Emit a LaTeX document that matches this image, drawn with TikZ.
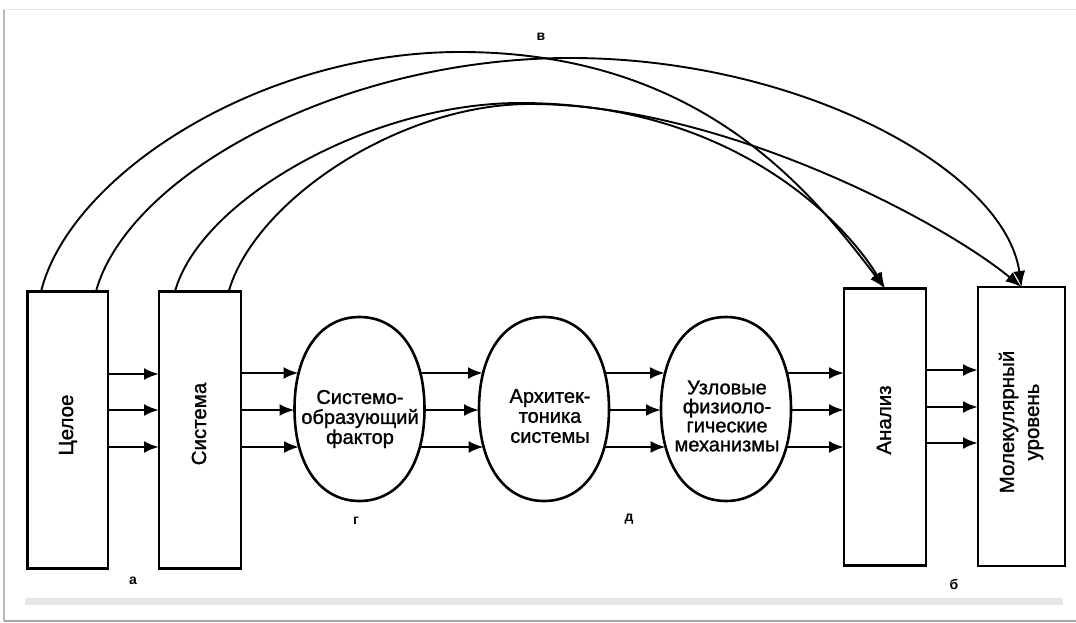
\documentclass[tikz,border=0pt]{standalone}
\usepackage{fontspec}
\setmainfont{Liberation Sans}
\newfontfamily\heavysans[FakeBold=1.2]{Liberation Sans}
\usetikzlibrary{arrows.meta,calc}

% rounded oval (slightly squarer than an ellipse) around a named node
\newcommand\ovaloutline[1]{%
  \draw[line width=2.6pt] ($(#1)+(65,0)$)
    .. controls +(0,-56) and +(39.5,0) .. ($(#1)+(0,-92)$)
    .. controls +(-39.5,0) and +(0,-56) .. ($(#1)+(-65,0)$)
    .. controls +(0,56) and +(-39.5,0) .. ($(#1)+(0,92)$)
    .. controls +(39.5,0) and +(0,56) .. cycle;}

\begin{document}
\begin{tikzpicture}[x=1pt,y=-1pt,
  block/.style={draw,line width=2.8pt,inner sep=0pt,outer sep=0pt,minimum height=277pt},
  oval/.style={inner sep=0pt,outer sep=0pt,minimum width=130pt,minimum height=184pt},
  vlabel/.style={rotate=90,font=\heavysans\fontsize{20.5}{25}\selectfont,align=center,inner sep=0pt},
  olabel/.style={font=\heavysans\fontsize{20}{20}\selectfont,align=center,inner sep=0pt},
  tag/.style={font=\fontsize{14}{14}\selectfont\bfseries,inner sep=0pt},
  flow/.style={line width=2.6pt,-{Latex[length=15pt,width=12pt]}},
  link/.style={line width=1.9pt,-{Latex[length=16pt,width=12pt]}}]

\useasboundingbox (0,0) rectangle (1076,623);
\fill[white] (0,0) rectangle (1076,623);

% page frame
\draw[black!10,line width=1pt] (4,10) -- (1076,10);
\draw[black!28,line width=1.2pt] (4,10) -- (4,621);
\fill[black!10] (25,598) rectangle (1063,605);
\draw[black!35,line width=2pt] (4,621) -- (1076,621);

% rectangular blocks
\node[block,minimum width=80.5pt] (celoe) at (67.75,430) {};
\node[block,minimum width=82pt] (sys) at (200,430) {};
\node[block,minimum width=82pt] (ana) at (885,427) {};
\node[block,minimum width=87pt,minimum height=279pt] (mol) at (1021.5,426.5) {};

\node[vlabel] (celoe-t) at (68,425) {Целое};
\node[vlabel] (sys-t) at (199,424) {Система};
\node[vlabel] (ana-t) at (884,420) {Анализ};
\node[vlabel] (mol-t) at (1021,422) {Молекулярный\\уровень};

% oval blocks
\node[oval] (e1) at (359.5,409) {};
\node[oval] (e2) at (544,409) {};
\node[oval] (e3) at (726,409) {};
\ovaloutline{e1}
\ovaloutline{e2}
\ovaloutline{e3}

\node[olabel] (e1-t) at (360,419) {Системо-\\образующий\\фактор};
\node[olabel] (e2-t) at (550,416) {Архитек-\\тоника\\системы};
\node[olabel,font=\heavysans\fontsize{20}{19}\selectfont] (e3-t) at (727,416) {Узловые\\физиоло-\\гические\\механизмы};

% triple flows
\foreach \y in {374,410,447}
  \draw[flow] (celoe.east |- 0,\y) -- (sys.west |- 0,\y);
\foreach \dy/\xo in {-36/61,1/65,38/60.4}{
  \draw[flow] (sys.east |- 0,409+\dy) -- ($(e1)+(-\xo,\dy)$);
  \draw[flow] ($(e1)+(\xo,\dy)$) -- ($(e2)+(-\xo,\dy)$);
  \draw[flow] ($(e2)+(\xo,\dy)$) -- ($(e3)+(-\xo,\dy)$);
  \draw[flow] ($(e3)+(\xo,\dy)$) -- (ana.west |- 0,409+\dy);
}
\foreach \y in {370,407,443}
  \draw[flow] (ana.east |- 0,\y) -- (mol.west |- 0,\y);

% arcs over the top
\draw[link] ($(celoe.north west)!0.168!(celoe.north east)$)
  .. controls (70,175) and (260,52) .. (460,52)
  .. controls (700,52) and (810,190) .. (ana.north);
\draw[link] ($(celoe.north west)!0.85!(celoe.north east)$)
  .. controls (128,175) and (340,58) .. (570,58)
  .. controls (800,58) and (1005,170) .. (mol.north);
\draw[link] ($(sys.north west)!0.195!(sys.north east)$)
  .. controls (200,200) and (370,103) .. (520,103)
  .. controls (740,103) and (850,230) .. (ana.north);
\draw[link] ($(sys.north west)!0.85!(sys.north east)$)
  .. controls (255,200) and (400,104) .. (530,104)
  .. controls (720,104) and (940,220) .. (mol.north);

% letter tags
\node[tag] (ta) at (133,581) {а};
\node[tag] (tb) at (954,584) {б};
\node[tag] (tv) at (541,37) {в};
\node[tag] (tg) at (356,521) {г};
\node[tag] (td) at (629,519) {д};
\end{tikzpicture}
\end{document}
